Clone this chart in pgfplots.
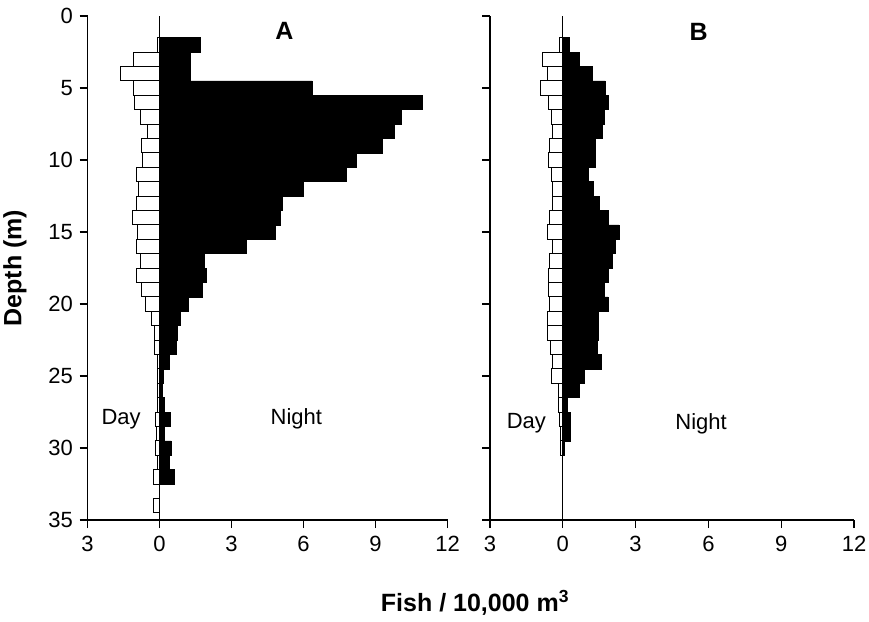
\documentclass[border=0pt]{standalone}
\usepackage{fontspec}
\setmainfont{Liberation Sans}
\usepackage{pgfplots}
\usepackage{pgfplotstable}
\pgfplotsset{compat=1.18}

% depth (m), day and night density (fish / 10,000 m^3); day stored negative
\pgfplotstableread{
depth day night
2  -0.10 1.69
3  -1.10 1.29
4  -1.62 1.29
5  -1.10 6.36
6  -1.06 10.96
7  -0.79 10.06
8  -0.51 9.79
9  -0.73 9.30
10 -0.69 8.22
11 -0.97 7.78
12 -0.87 5.99
13 -0.97 5.11
14 -1.13 5.02
15 -0.90 4.81
16 -0.97 3.62
17 -0.81 1.87
18 -0.97 1.94
19 -0.73 1.80
20 -0.58 1.18
21 -0.34 0.86
22 -0.21 0.76
23 -0.21 0.69
24 -0.10 0.41
25 -0.10 0.15
26 -0.10 0.10
27 -0.10 0.20
28 -0.18 0.46
29 -0.12 0.20
30 -0.18 0.48
31 -0.10 0.40
32 -0.23 0.62
33  0.00 0.00
34 -0.23 0.00
}\dataA

\pgfplotstableread{
depth day night
2  -0.12 0.28
3  -0.83 0.69
4  -0.62 1.21
5  -0.90 1.74
6  -0.58 1.86
7  -0.48 1.69
8  -0.41 1.62
9  -0.54 1.35
10 -0.61 1.35
11 -0.48 1.07
12 -0.44 1.24
13 -0.41 1.52
14 -0.54 1.86
15 -0.62 2.31
16 -0.41 2.18
17 -0.55 2.04
18 -0.61 1.86
19 -0.61 1.69
20 -0.54 1.86
21 -0.62 1.46
22 -0.62 1.46
23 -0.50 1.42
24 -0.44 1.60
25 -0.47 0.87
26 -0.19 0.70
27 -0.17 0.18
28 -0.12 0.32
29 -0.10 0.32
30 -0.08 0.05
}\dataB

\pgfplotsset{
  fishax/.style={
    scale only axis, height=504pt,
    xmin=-3, xmax=12, ymin=0, ymax=35, y dir=reverse,
    axis x line*=bottom, axis y line*=left,
    axis line style={line width=1.2pt},
    every tick/.style={black, line width=1.2pt},
    major tick length=8pt, tick align=outside,
    xtick={-3,0,3,6,9,12}, xticklabels={3,0,3,6,9,12},
    ytick={0,5,...,35},
    /pgf/number format/assume math mode=true,
    tick label style={font=\fontsize{22}{22}\selectfont},
    xticklabel style={yshift=-5pt},
    yticklabel style={xshift=-3pt},
    clip=false,
  },
  daybar/.style={xbar, bar width=1, bar shift=0pt, fill=white, draw=black, line width=1pt},
  nightbar/.style={xbar, bar width=1, bar shift=0pt, fill=black, draw=black, line width=0.6pt},
}

\begin{document}
\begin{tikzpicture}
\useasboundingbox (0,0) rectangle (869pt,621pt);

\begin{axis}[fishax, at={(87.5pt,101pt)}, anchor=south west, width=360pt]
\addplot[nightbar] table[x=night, y=depth] {\dataA};
\addplot[daybar] table[x=day, y=depth] {\dataA};
\addplot[black, line width=1pt] coordinates {(0,0) (0,35)};
\node[font=\bfseries\fontsize{25}{25}\selectfont] at (axis cs:5.2,1.0) {A};
\node[font=\fontsize{22}{22}\selectfont] at (axis cs:-1.6,28) {Day};
\node[font=\fontsize{22}{22}\selectfont] at (axis cs:5.7,28) {Night};
\end{axis}

\begin{axis}[fishax, at={(490pt,101pt)}, anchor=south west, width=364pt, yticklabels={}]
\addplot[nightbar] table[x=night, y=depth] {\dataB};
\addplot[daybar] table[x=day, y=depth] {\dataB};
\addplot[black, line width=1pt] coordinates {(0,0) (0,35)};
\node[font=\bfseries\fontsize{25}{25}\selectfont] at (axis cs:5.6,1.1) {B};
\node[font=\fontsize{22}{22}\selectfont] at (axis cs:-1.5,28.3) {Day};
\node[font=\fontsize{22}{22}\selectfont] at (axis cs:5.7,28.3) {Night};
\end{axis}

\node[rotate=90, font=\bfseries\fontsize{25}{25}\selectfont] at (15pt,353pt) {Depth (m)};
\node[font=\bfseries\fontsize{25}{25}\selectfont] at (475pt,18pt) {Fish / 10,000 m\textsuperscript{3}};
\end{tikzpicture}
\end{document}
